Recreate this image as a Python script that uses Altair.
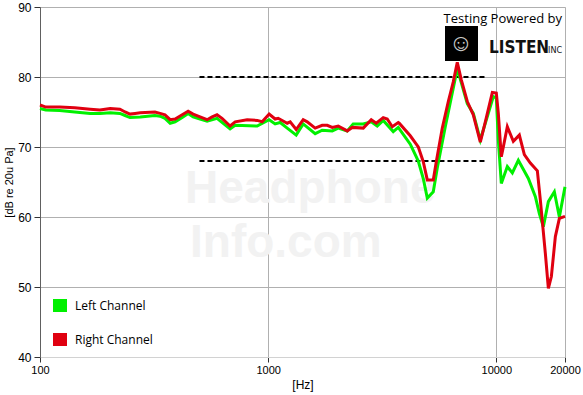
import altair as alt
import pandas as pd

# Right channel (red) – frequency [Hz] and level [dB]
right_freq = [100, 106, 122, 142, 166, 183, 193, 203, 224, 236, 248, 261, 275, 319, 336, 353, 372, 391,
              420, 446, 469, 503, 540, 568, 597, 628, 681, 717, 809, 895, 941, 1010, 1073, 1106, 1212,
              1249, 1327, 1424, 1483, 1607, 1725, 1815, 1909, 2028, 2221, 2336, 2611, 2830, 2976, 3194,
              3326, 3500, 3717, 3754, 4196, 4550, 4784, 4983, 5293, 5456, 5797, 6159, 6477, 6744, 7024,
              7461, 7927, 8509, 8950, 9605, 10000, 10204, 10517, 10732, 11174, 11873, 12615, 13271,
              14097, 15132, 15596, 16402, 16909, 17429, 18145, 18894, 20000]
right_db = [76.0, 75.7, 75.7, 75.6, 75.4, 75.3, 75.4, 75.5, 75.4, 75.0, 74.7, 74.8, 74.9, 75.0, 74.8, 74.6,
            73.9, 74.0, 74.6, 75.1, 74.7, 74.3, 73.9, 74.3, 74.6, 74.1, 73.0, 73.6, 73.9, 73.8, 73.6, 74.7,
            74.0, 74.1, 73.4, 73.6, 72.5, 73.9, 73.6, 72.7, 73.1, 73.1, 72.8, 73.0, 72.3, 72.8, 72.7, 73.9,
            73.4, 74.2, 74.0, 72.9, 73.5, 73.4, 71.6, 70.0, 67.9, 65.3, 65.3, 67.9, 72.7, 76.5, 79.3, 82.1,
            79.6, 76.5, 74.6, 70.7, 73.6, 77.8, 77.7, 74.8, 68.6, 70.0, 72.9, 70.8, 71.7, 68.9, 67.7, 66.6,
            62.4, 54.8, 49.8, 51.5, 57.2, 59.8, 60.1]

# Left channel (green)
left_freq = [100, 106, 122, 142, 166, 183, 203, 224, 236, 248, 275, 319, 336, 353, 372, 391, 420, 446,
             469, 503, 540, 597, 681, 717, 895, 1010, 1073, 1129, 1212, 1327, 1424, 1607, 1725, 1909,
             2028, 2221, 2359, 2611, 2830, 3007, 3194, 3534, 3717, 4196, 4550, 4784, 4983, 5293, 5511,
             5975, 6744, 7461, 7927, 8509, 9701, 10000, 10204, 10517, 11174, 11753, 12488, 13816, 14831,
             15440, 16074, 16909, 17963, 18894, 20000]
left_db = [75.5, 75.3, 75.2, 75.0, 74.8, 74.8, 74.9, 74.8, 74.5, 74.2, 74.3, 74.5, 74.4, 74.1, 73.4, 73.6,
           74.2, 74.8, 74.3, 74.0, 73.7, 74.1, 72.6, 73.1, 73.0, 73.9, 73.3, 73.5, 72.7, 71.7, 73.3, 71.9,
           72.4, 72.3, 72.7, 72.3, 73.3, 73.3, 73.6, 73.0, 73.8, 72.2, 72.8, 70.4, 68.0, 65.5, 62.7, 63.6,
           67.0, 72.9, 81.2, 76.2, 74.8, 71.0, 77.2, 77.0, 71.0, 64.8, 67.2, 66.3, 68.1, 65.5, 62.9, 60.5,
           58.6, 62.2, 63.6, 60.0, 64.3]

# Dashed reference band
band_start = [500, 500]
band_end = [9000, 9000]
band_level = [80, 68]

x_ticks = [100, 1000, 10000, 20000]
y_ticks = [40, 45, 50, 55, 60, 65, 70, 75, 80, 85, 90]

GREEN = "#00f000"
RED = "#e00010"

left_df = pd.DataFrame({"f": left_freq, "db": left_db})
right_df = pd.DataFrame({"f": right_freq, "db": right_db})
band_df = pd.DataFrame({"f1": band_start, "f2": band_end, "db": band_level})

xscale = alt.Scale(type="log", domain=[100, 20000], nice=False)
yscale = alt.Scale(domain=[40, 90], nice=False, zero=False)

xaxis = alt.Axis(values=x_ticks, format="d", title="[Hz]", grid=True, gridColor="#b0b0b0",
                 domainColor="#d2d2d2", tickColor="#333333", tickSize=5, labelPadding=2,
                 labelFont="Liberation Sans", labelFontSize=11, labelColor="#000000",
                 titleFont="Liberation Sans", titleFontSize=12, titleFontWeight="normal",
                 titleColor="#000000", titlePadding=4, labelFlush=False)
yaxis = alt.Axis(values=y_ticks, title="[dB re 20u Pa]", grid=True, gridColor="#b0b0b0",
                 domainColor="#606060", tickColor="#333333", tickSize=6, labelPadding=3,
                 labelFont="Liberation Sans", labelFontSize=12, labelColor="#000000",
                 titleFont="Liberation Sans", titleFontSize=11, titleFontWeight="normal",
                 titleColor="#000000", titlePadding=3)

base_x = alt.X("f:Q", scale=xscale, axis=xaxis)
base_y = alt.Y("db:Q", scale=yscale, axis=yaxis)

# watermark
wm_df = pd.DataFrame({"t": ["Headphone", "Info.com"], "px": [145, 150], "py": [196, 250]})
watermark = alt.Chart(wm_df).mark_text(
    align="left", baseline="alphabetic", font="Liberation Sans", fontWeight="bold",
    fontSize=46, color="#f2f2f2"
).encode(x=alt.X("px:Q", scale=None), y=alt.Y("py:Q", scale=None), text="t:N")

left_line = alt.Chart(left_df).mark_line(color=GREEN, strokeWidth=3, interpolate="linear").encode(
    x=base_x, y=base_y)
right_line = alt.Chart(right_df).mark_line(color=RED, strokeWidth=3, interpolate="linear").encode(
    x=alt.X("f:Q", scale=xscale), y=alt.Y("db:Q", scale=yscale))

band = alt.Chart(band_df).mark_rule(color="#000000", strokeWidth=2, strokeDash=[5, 3]).encode(
    x=alt.X("f1:Q", scale=xscale), x2="f2:Q", y=alt.Y("db:Q", scale=yscale))

# legend
leg_df = pd.DataFrame({"name": ["Left Channel", "Right Channel"], "c": [GREEN, RED],
                       "x1": [13, 13], "x2": [27, 27], "y1": [292, 326], "y2": [305, 339],
                       "tx": [35, 35], "ty": [299, 333]})
leg_box = alt.Chart(leg_df).mark_rect().encode(
    x=alt.X("x1:Q", scale=None), x2="x2:Q", y=alt.Y("y1:Q", scale=None), y2="y2:Q",
    color=alt.Color("c:N", scale=None))
leg_txt = alt.Chart(leg_df).mark_text(align="left", baseline="middle", font="Open Sans",
                                      fontSize=12, color="#000000").encode(
    x=alt.X("tx:Q", scale=None), y=alt.Y("ty:Q", scale=None), text="name:N")

# logo
logo_txt = alt.Chart(pd.DataFrame({"t": ["Testing Powered by"]})).mark_text(
    align="right", baseline="middle", font="Open Sans", fontSize=13, color="#000000"
).encode(x=alt.value(522), y=alt.value(12), text="t:N")
logo_box = alt.Chart(pd.DataFrame({"a": [0]})).mark_rect(color="#000000").encode(
    x=alt.value(405), x2=alt.value(438), y=alt.value(19), y2=alt.value(54))
logo_face = alt.Chart(pd.DataFrame({"a": [0]})).mark_text(
    text="☺", fontSize=24, color="#cccccc", align="center", baseline="middle"
).encode(x=alt.value(421), y=alt.value(37))
logo_name = alt.Chart(pd.DataFrame({"t": ["LISTEN"]})).mark_text(
    align="left", baseline="alphabetic", font="Liberation Sans Narrow, DejaVu Sans Condensed",
    fontWeight="bold", fontSize=17, color="#111111"
).encode(x=alt.value(449), y=alt.value(46), text="t:N")
logo_inc = alt.Chart(pd.DataFrame({"t": ["INC"]})).mark_text(
    align="left", baseline="alphabetic", font="Liberation Sans Narrow, DejaVu Sans Condensed",
    fontSize=9, color="#111111"
).encode(x=alt.value(508), y=alt.value(46), text="t:N")

chart = alt.layer(
    watermark, band, left_line, right_line, leg_box, leg_txt,
    logo_txt, logo_box, logo_face, logo_name, logo_inc
).properties(
    width=525, height=350,
    padding={"left": 40, "top": 7, "right": 18, "bottom": 38},
    autosize=alt.AutoSizeParams(type="none")
).configure_view(stroke=None).configure(background="#ffffff")

chart.save("out.html", embed_options={"renderer": "svg", "actions": False})
